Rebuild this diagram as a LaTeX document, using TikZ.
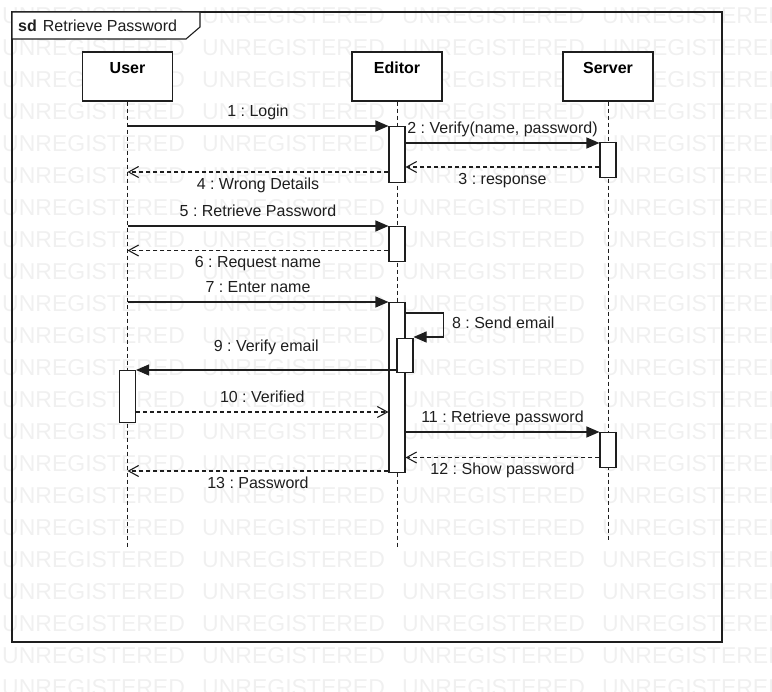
\documentclass[tikz,border=0pt]{standalone}
\usepackage{fontspec}
\setmainfont{Liberation Sans}
\usetikzlibrary{arrows.meta}

\definecolor{wmgray}{RGB}{240,240,240}
\definecolor{ink}{RGB}{30,30,30}
\definecolor{shade}{RGB}{242,242,242}
\newcommand{\dgfont}{\fontsize{16}{19}\selectfont}
\frenchspacing

\tikzset{
	wmark/.style={text=wmgray, font=\fontsize{23}{23}\selectfont, inner sep=0pt, anchor=west},
	head/.style={draw=ink, fill=white, line width=1.1pt, minimum width=90pt, minimum height=49pt,
		font=\dgfont\bfseries, text height=11.5pt, text depth=18pt, inner sep=9.5pt},
	life/.style={draw=ink, line width=1pt, dash pattern=on 4pt off 3pt},
	act/.style={draw=ink, fill=white, line width=1.1pt, minimum width=16pt, inner sep=0pt, anchor=north},
	call/.style={draw=ink, line width=1.1pt, -{Triangle[length=13pt,width=11pt]}},
	reply/.style={draw=ink, line width=1.1pt, dash pattern=on 4pt off 3pt, -{Straight Barb[length=10pt,width=11pt]}},
	msg/.style={text=ink, inner sep=3pt, text height=11.5pt, text depth=3.5pt}
}

\begin{document}
\begin{tikzpicture}[x=1pt, y=-1pt, font=\dgfont]
	\useasboundingbox (0,0) rectangle (772,692);
	\clip (0,0) rectangle (772,692);
	% watermark
	\foreach \r in {0,...,21}{
		\foreach \c in {0,...,3}{
			\node[wmark] (wm-\r-\c) at (2+200*\c, 15.5+32*\r) {UNREGISTERED};
		}
	}
	% frame
	\draw[ink, line width=1.1pt] (12,12) rectangle (722,642);
	\filldraw[fill=white, draw=ink, line width=1.1pt] (12,12) -- (200,12) -- (200,27) -- (186,39) -- (12,39) -- cycle;
	\node[anchor=west, inner sep=0pt, text=ink] (title) at (18,25.5) {\textbf{sd}\hspace{6pt}Retrieve Password};
	% lifelines
	\node[head] (usr) at (127.5,76.5) {User};
	\node[head] (edt) at (397,76.5) {Editor};
	\node[head] (srv) at (608,76.5) {Server};
	\draw[life] (usr.south) -- ++(0,447);
	\draw[life] (edt.south) -- ++(0,447);
	\draw[life] (srv.south) -- ++(0,439);
	% activations
	\node[act, minimum height=56pt] (ea) at (397,126) {};
	\node[act, minimum height=35pt] (sa) at (608,142) {};
	\node[act, minimum height=35pt] (eb) at (397,226) {};
	\node[act, minimum height=170pt] (ec) at (397,302) {};
	\node[act, minimum height=34pt] (ed) at (405,338) {};
	\node[act, minimum height=52pt] (ua) at (127.5,370) {};
	\node[act, minimum height=35pt] (sb) at (608,432) {};
	% message levels
	\coordinate (m1) at (0,126);
	\coordinate (m2) at (0,143);
	\coordinate (m3) at (0,167);
	\coordinate (m4) at (0,172);
	\coordinate (m5) at (0,226);
	\coordinate (m6) at (0,250.5);
	\coordinate (m7) at (0,302);
	\coordinate (m8) at (0,313);
	\coordinate (m8b) at (0,337);
	\coordinate (m9) at (0,370);
	\coordinate (m10) at (0,412);
	\coordinate (m11) at (0,432);
	\coordinate (m12) at (0,457.5);
	\coordinate (m13) at (0,471);
	% messages
	\draw[call] (m1 -| usr) -- (m1 -| ea.west) node[msg, midway, above=2pt] {1 : Login};
	\draw[call] (m2 -| ea.east) -- (m2 -| sa.west) node[msg, midway, above=2pt] {2 : Verify(name, password)};
	\draw[reply] (m3 -| sa.west) -- (m3 -| ea.east) node[msg, midway, below=2pt] {3 : response};
	\draw[reply] (m4 -| ea.west) -- (m4 -| usr) node[msg, midway, below=2pt] {4 : Wrong Details};
	\draw[call] (m5 -| usr) -- (m5 -| eb.west) node[msg, midway, above=2pt] {5 : Retrieve Password};
	\draw[reply] (m6 -| eb.west) -- (m6 -| usr) node[msg, midway, below=2pt] {6 : Request name};
	\draw[call] (m7 -| usr) -- (m7 -| ec.west) node[msg, midway, above=2pt] {7 : Enter name};
	\draw[call] (m8 -| ec.east) -- ++(38,0) |- (m8b -| ed.east) node[msg, pos=0.25, right, xshift=5pt] {8 : Send email};
	\draw[call] (m9 -| ed.west) -- (m9 -| ua.east) node[msg, midway, above=11pt] {9 : Verify email};
	\draw[reply] (m10 -| ua.east) -- (m10 -| ec.west) node[msg, midway, above=2pt] {10 : Verified};
	\draw[call] (m11 -| ec.east) -- (m11 -| sb.west) node[msg, midway, above=2pt] {11 : Retrieve password};
	\draw[reply] (m12 -| sb.west) -- (m12 -| ec.east) node[msg, midway, below=2pt] {12 : Show password};
	\draw[reply] (m13 -| ec.west) -- (m13 -| usr) node[msg, midway, below=2pt] {13 : Password};
\end{tikzpicture}
\end{document}
